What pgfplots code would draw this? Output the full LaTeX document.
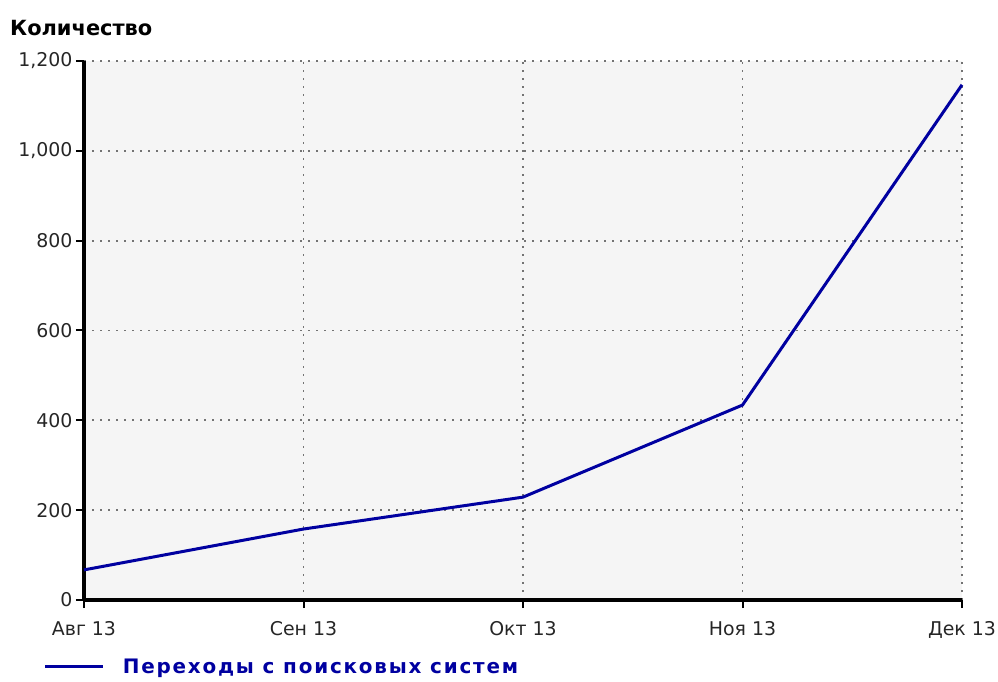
\documentclass[border=0pt]{standalone}
\usepackage{fontspec}
\setmainfont{DejaVu Sans}
\newfontfamily\boldwide[LetterSpace=9]{DejaVu Sans}
\usepackage{pgfplots}
\pgfplotsset{compat=1.18}
\definecolor{lineblue}{RGB}{0,0,160}
\definecolor{bg}{RGB}{245,245,245}
\begin{document}
\begin{tikzpicture}
\useasboundingbox (0,0) rectangle (998bp,682bp);
\node[anchor=west, inner sep=0pt, font=\bfseries\fontsize{21}{24}\selectfont] at (10bp,654bp) {Количество};
\begin{axis}[
 at={(84bp,82bp)}, anchor=south west,
 scale only axis, width=878bp, height=539bp,
 xmin=0, xmax=4, ymin=0, ymax=1200,
 axis x line=bottom, axis y line=left,
 axis line style={-, line width=3.5bp, black},
 xtick={0,...,4}, xticklabels={Авг 13,Сен 13,Окт 13,Ноя 13,Дек 13},
 ytick={0,200,...,1200},
 tick style={black, line width=2bp},
 major tick length=8bp,
 tick align=outside,
 grid=major,
 major grid style={black!55, line width=1.8bp, dash pattern=on 1.8bp off 6.2bp},
 axis background/.style={fill=bg},
 tick label style={font=\fontsize{19}{22}\selectfont, text=black!85},
 xticklabel style={yshift=-10bp},
 /pgf/number format/assume math mode=true,
 /pgf/number format/1000 sep={,},
 scaled y ticks=false,
 clip=false,
 legend style={draw=none, fill=none, at={(axis description cs:-0.046,-0.124)}, anchor=west,
   font=\boldwide\bfseries\fontsize{20}{24}\selectfont, text=lineblue, inner sep=0pt,
   /tikz/every even column/.append style={column sep=0bp}},
 legend cell align=left,
 legend image code/.code={\draw[#1] (0bp,0bp) -- (58bp,0bp);},
]
\addplot[lineblue, line width=3bp] coordinates {(0,67) (1,158) (2,229) (3,434) (4,1147)};
\addlegendentry{\hspace{16bp}Переходы с поисковых систем}
\end{axis}
\end{tikzpicture}
\end{document}
